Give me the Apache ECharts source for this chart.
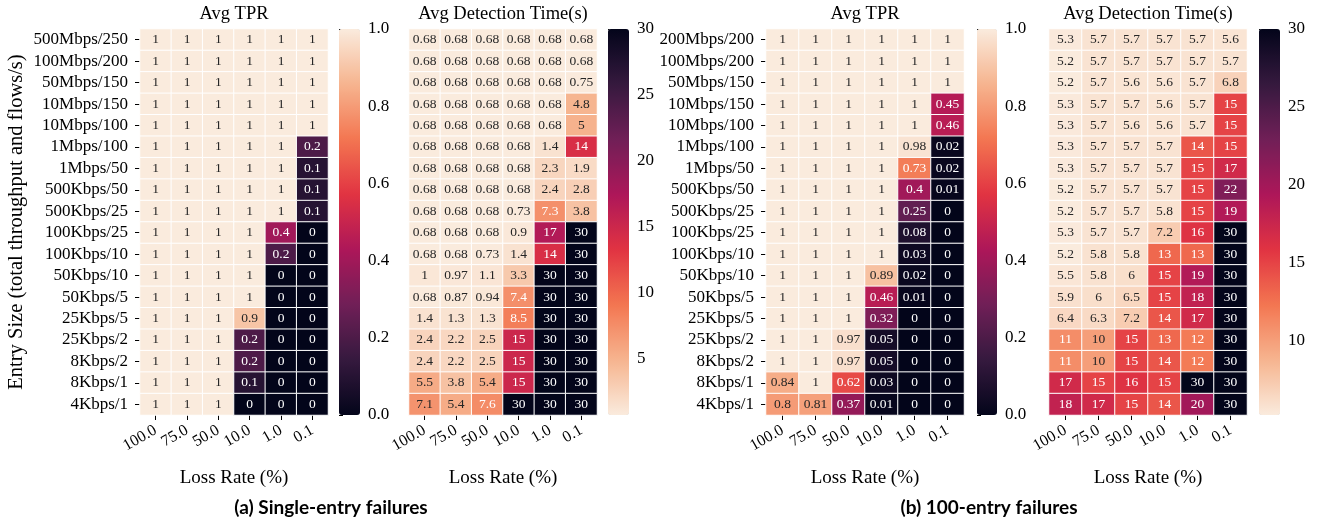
<!DOCTYPE html>
<html><head><meta charset="utf-8">
<script src="https://cdn.jsdelivr.net/npm/echarts@6/dist/echarts.min.js"></script>
<style>html,body{margin:0;padding:0;background:#fff}#c{width:1321px;height:523px}</style>
</head><body><div id="c"></div>
<script>
// ---------------- DATA ----------------
const lossRates = ['100.0', '75.0', '50.0', '10.0', '1.0', '0.1'];
const entrySizesA = ['500Mbps/250','100Mbps/200','50Mbps/150','10Mbps/150','10Mbps/100','1Mbps/100','1Mbps/50','500Kbps/50','500Kbps/25','100Kbps/25','100Kbps/10','50Kbps/10','50Kbps/5','25Kbps/5','25Kbps/2','8Kbps/2','8Kbps/1','4Kbps/1'];
const entrySizesB = ['200Mbps/200','100Mbps/200','50Mbps/150','10Mbps/150','10Mbps/100','1Mbps/100','1Mbps/50','500Kbps/50','500Kbps/25','100Kbps/25','100Kbps/10','50Kbps/10','50Kbps/5','25Kbps/5','25Kbps/2','8Kbps/2','8Kbps/1','4Kbps/1'];

const tprA = [
  [1,1,1,1,1,1],
  [1,1,1,1,1,1],
  [1,1,1,1,1,1],
  [1,1,1,1,1,1],
  [1,1,1,1,1,1],
  [1,1,1,1,1,0.2],
  [1,1,1,1,1,0.1],
  [1,1,1,1,1,0.1],
  [1,1,1,1,1,0.1],
  [1,1,1,1,0.4,0],
  [1,1,1,1,0.2,0],
  [1,1,1,1,0,0],
  [1,1,1,1,0,0],
  [1,1,1,0.9,0,0],
  [1,1,1,0.2,0,0],
  [1,1,1,0.2,0,0],
  [1,1,1,0.1,0,0],
  [1,1,1,0,0,0]
];
const timeA = [
  [0.68,0.68,0.68,0.68,0.68,0.68],
  [0.68,0.68,0.68,0.68,0.68,0.68],
  [0.68,0.68,0.68,0.68,0.68,0.75],
  [0.68,0.68,0.68,0.68,0.68,4.8],
  [0.68,0.68,0.68,0.68,0.68,5],
  [0.68,0.68,0.68,0.68,1.4,14],
  [0.68,0.68,0.68,0.68,2.3,1.9],
  [0.68,0.68,0.68,0.68,2.4,2.8],
  [0.68,0.68,0.68,0.73,7.3,3.8],
  [0.68,0.68,0.68,0.9,17,30],
  [0.68,0.68,0.73,1.4,14,30],
  [1,0.97,1.1,3.3,30,30],
  [0.68,0.87,0.94,7.4,30,30],
  [1.4,1.3,1.3,8.5,30,30],
  [2.4,2.2,2.5,15,30,30],
  [2.4,2.2,2.5,15,30,30],
  [5.5,3.8,5.4,15,30,30],
  [7.1,5.4,7.6,30,30,30]
];
const tprB = [
  [1,1,1,1,1,1],
  [1,1,1,1,1,1],
  [1,1,1,1,1,1],
  [1,1,1,1,1,0.45],
  [1,1,1,1,1,0.46],
  [1,1,1,1,0.98,0.02],
  [1,1,1,1,0.73,0.02],
  [1,1,1,1,0.4,0.01],
  [1,1,1,1,0.25,0],
  [1,1,1,1,0.08,0],
  [1,1,1,1,0.03,0],
  [1,1,1,0.89,0.02,0],
  [1,1,1,0.46,0.01,0],
  [1,1,1,0.32,0,0],
  [1,1,0.97,0.05,0,0],
  [1,1,0.97,0.05,0,0],
  [0.84,1,0.62,0.03,0,0],
  [0.8,0.81,0.37,0.01,0,0]
];
const timeB = [
  [5.3,5.7,5.7,5.7,5.7,5.6],
  [5.2,5.7,5.7,5.7,5.7,5.7],
  [5.2,5.7,5.6,5.6,5.7,6.8],
  [5.3,5.7,5.7,5.6,5.7,15],
  [5.3,5.7,5.6,5.6,5.7,15],
  [5.3,5.7,5.7,5.7,14,15],
  [5.3,5.7,5.7,5.7,15,17],
  [5.2,5.7,5.7,5.7,15,22],
  [5.2,5.7,5.7,5.8,15,19],
  [5.3,5.7,5.7,7.2,16,30],
  [5.2,5.8,5.8,13,13,30],
  [5.5,5.8,6,15,19,30],
  [5.9,6,6.5,15,18,30],
  [6.4,6.3,7.2,14,17,30],
  [11,10,15,13,12,30],
  [11,10,15,14,12,30],
  [17,15,16,15,30,30],
  [18,17,15,14,20,30]
];
const tprRange = [0, 1];
const timeRangeA = [0.68, 30];
const timeRangeB = [5.2, 30];
const tprTicks = [0, 0.2, 0.4, 0.6, 0.8, 1.0];
const timeTicksA = [5, 10, 15, 20, 25, 30];
const timeTicksB = [10, 15, 20, 25, 30];

// ---------------- STYLE ----------------
const ROCKET = ['#03051a','#35193e','#701f57','#ad1759','#e13342','#f37651','#f6b48f','#faebdd'];
const ROCKET_R = ROCKET.slice().reverse();
const SERIF = 'Liberation Serif';

function hex2rgb(h){return [parseInt(h.slice(1,3),16),parseInt(h.slice(3,5),16),parseInt(h.slice(5,7),16)];}
function cmap(stops, t){
  t = Math.max(0, Math.min(1, t));
  const n = stops.length - 1, p = t * n, i = Math.min(n - 1, Math.floor(p)), f = p - i;
  const a = hex2rgb(stops[i]), b = hex2rgb(stops[i+1]);
  return a.map((v,k)=>v + (b[k]-v)*f);
}
function lum(rgb){
  const l = rgb.map(v=>{v/=255; return v <= 0.03928 ? v/12.92 : Math.pow((v+0.055)/1.055, 2.4);});
  return 0.2126*l[0] + 0.7152*l[1] + 0.0722*l[2];
}
function fmt(v){ return String(Number(v.toPrecision(2))); }

function buildData(mat, range, stops){
  const out = [];
  mat.forEach((row, i) => row.forEach((v, j) => {
    const t = (v - range[0]) / (range[1] - range[0]);
    const c = lum(cmap(stops, t)) > 0.408 ? '#262626' : '#ffffff';
    out.push({ value: [j, i, v], label: { color: c } });
  }));
  return out;
}

const panels = [
  { left: 140, width: 188, rows: entrySizesA, mat: tprA, range: tprRange, stops: ROCKET, showY: true, title: 'Avg TPR' },
  { left: 409, width: 188, rows: entrySizesA, mat: timeA, range: timeRangeA, stops: ROCKET_R, showY: false, title: 'Avg Detection Time(s)' },
  { left: 766, width: 198, rows: entrySizesB, mat: tprB, range: tprRange, stops: ROCKET, showY: true, title: 'Avg TPR' },
  { left: 1049, width: 198, rows: entrySizesB, mat: timeB, range: timeRangeB, stops: ROCKET_R, showY: false, title: 'Avg Detection Time(s)' }
];
const bars = [
  { left: 339, width: 21, range: tprRange, ticks: tprTicks, dec: 1 },
  { left: 608, width: 21, range: timeRangeA, ticks: timeTicksA, dec: 0 },
  { left: 977, width: 20, range: tprRange, ticks: tprTicks, dec: 1 },
  { left: 1259, width: 21, range: timeRangeB, ticks: timeTicksB, dec: 0 }
];
const TOP = 29, H = 386;

const grid = [], xAxis = [], yAxis = [], series = [], visualMap = [], graphic = [];
panels.forEach((p, k) => {
  grid.push({ left: p.left, top: TOP, width: p.width, height: H });
  xAxis.push({
    type: 'category', gridIndex: k, data: lossRates,
    axisLine: { show: false },
    axisTick: { show: true, alignWithLabel: true, interval: 0, length: 5, lineStyle: { color: '#000' } },
    axisLabel: { rotate: 30, interval: 0, margin: 14, fontSize: 16, fontFamily: SERIF, color: '#000' },
    splitLine: { show: false },
    name: 'Loss Rate (%)', nameLocation: 'middle', nameGap: 54,
    nameTextStyle: { fontSize: 19, fontFamily: SERIF, color: '#000' }
  });
  yAxis.push({
    type: 'category', gridIndex: k, data: p.rows, inverse: true,
    axisLine: { show: false },
    axisTick: { show: p.showY, alignWithLabel: true, interval: 0, length: 5, lineStyle: { color: '#000' } },
    axisLabel: { show: p.showY, interval: 0, margin: 12, fontSize: 17, fontFamily: SERIF, color: '#000' },
    splitLine: { show: false }
  });
  series.push({
    type: 'heatmap', xAxisIndex: k, yAxisIndex: k,
    data: buildData(p.mat, p.range, p.stops),
    itemStyle: { borderColor: '#ffffff', borderWidth: 1 },
    label: { show: true, fontSize: 13.5, fontFamily: SERIF, formatter: (d) => fmt(d.value[2]) },
    emphasis: { disabled: true }
  });
  const b = bars[k];
  visualMap.push({
    type: 'continuous', seriesIndex: k, dimension: 2,
    min: b.range[0], max: b.range[1],
    inRange: { color: p.stops },
    calculable: false, orient: 'vertical',
    left: b.left, top: TOP, itemWidth: b.width, itemHeight: H, padding: 0,
    text: null, hoverLink: false
  });
  graphic.push({
    type: 'text', x: p.left + p.width / 2, y: 14,
    style: { text: p.title, fontSize: 18.5, fontFamily: SERIF, fill: '#000', textAlign: 'center', textVerticalAlign: 'middle' }
  });
});
bars.forEach((b, k) => {
  const gi = 4 + k;
  grid.push({ left: b.left, top: TOP, width: b.width, height: H });
  xAxis.push({ type: 'value', gridIndex: gi, show: false, min: 0, max: 1 });
  yAxis.push({
    type: 'value', gridIndex: gi, position: 'right',
    min: b.range[0], max: b.range[1],
    axisLine: { show: false },
    splitLine: { show: false },
    axisTick: { show: true, length: 4, lineStyle: { color: '#000' }, customValues: b.ticks },
    axisLabel: { margin: 8, fontSize: 17, fontFamily: SERIF, color: '#000', customValues: b.ticks,
      formatter: (v) => Number(v).toFixed(b.dec) }
  });
  series.push({ type: 'scatter', xAxisIndex: gi, yAxisIndex: gi, data: [], silent: true });
});
graphic.push({
  type: 'text', x: 17, y: 222, rotation: Math.PI / 2,
  style: { text: 'Entry Size (total throughput and flows/s)', fontSize: 20.5, fontFamily: SERIF, fill: '#000', textAlign: 'center', textVerticalAlign: 'middle' }
});
graphic.push({
  type: 'text', x: 331, y: 508,
  style: { text: '(a) Single-entry failures', fontSize: 19, fontWeight: 'bold', fontFamily: 'Lato', fill: '#000', textAlign: 'center', textVerticalAlign: 'middle' }
});
graphic.push({
  type: 'text', x: 989, y: 508,
  style: { text: '(b) 100-entry failures', fontSize: 19, fontWeight: 'bold', fontFamily: 'Lato', fill: '#000', textAlign: 'center', textVerticalAlign: 'middle' }
});

const chart = echarts.init(document.getElementById('c'), null, { renderer: 'canvas' });
chart.setOption({
  animation: false,
  backgroundColor: '#ffffff',
  grid, xAxis, yAxis, series, visualMap, graphic
});
</script>
</body></html>
